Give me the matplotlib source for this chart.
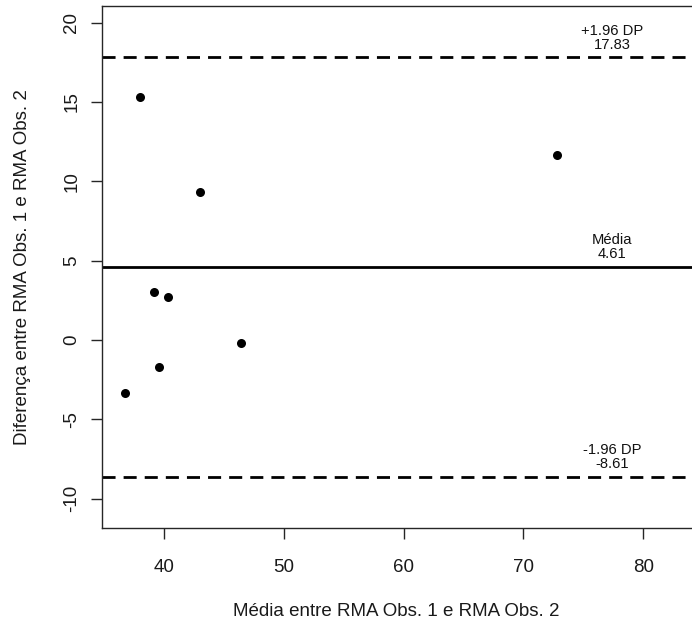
import matplotlib
matplotlib.use("Agg")
import matplotlib.pyplot as plt

plt.rcParams['font.family'] = ['Liberation Sans', 'DejaVu Sans']
plt.rcParams['axes.unicode_minus'] = False

# Bland-Altman data: mean of the two observers vs. their difference
media_obs = [36.74, 37.98, 39.12, 39.55, 40.32, 43.03, 46.41, 72.78]
diferenca_obs = [-3.36, 15.31, 3.00, -1.68, 2.69, 9.34, -0.17, 11.66]

# Summary lines (mean difference and limits of agreement)
media_dif = 4.61
limite_sup = 17.83
limite_inf = -8.61

x_ticks = [40, 50, 60, 70, 80]
y_ticks = [-10, -5, 0, 5, 10, 15, 20]

W, H = 692, 632
fig = plt.figure(figsize=(W / 100, H / 100), dpi=100)
left_px, right_px, top_px, bottom_px = 102, 693, 6, 528.3
ax = fig.add_axes([left_px / W, (H - bottom_px) / H,
                   (right_px - left_px) / W, (bottom_px - top_px) / H])

ax.plot(media_obs, diferenca_obs, 'o', color='black', markersize=6.5,
        markeredgewidth=0)

dash = (0, (4.7, 2.9))
ax.axhline(limite_sup, color='black', lw=2, linestyle=dash)
ax.axhline(media_dif, color='black', lw=2)
ax.axhline(limite_inf, color='black', lw=2, linestyle=dash)

label_x = 77.4
for y, nome in [(limite_sup, '+1.96 DP'), (media_dif, 'Média'),
                (limite_inf, '-1.96 DP')]:
    ax.annotate(f'{nome}\n{y:.2f}', xy=(label_x, y), xytext=(0, 4),
                textcoords='offset points', ha='center', va='bottom',
                fontsize=10.6, linespacing=1.0, color='#111111')

ax.set_xlim(34.82, 84.16)
ax.set_ylim(-11.87, 21.05)
ax.set_xticks(x_ticks)
ax.set_yticks(y_ticks)

edge = '#262626'
for side in ['left', 'bottom', 'top']:
    ax.spines[side].set_color(edge)
    ax.spines[side].set_linewidth(1.0)
ax.spines['right'].set_visible(False)

fs = 13.5
ax.tick_params(axis='both', direction='out', length=7.9, width=1.0,
               color=edge, labelsize=fs, labelcolor='#1a1a1a')
ax.tick_params(axis='x', pad=14.3)
ax.tick_params(axis='y', pad=7.8)
for lab in ax.get_yticklabels():
    lab.set_rotation(90)
    lab.set_va('center')
    lab.set_ha('right')

ax.set_xlabel('Média entre RMA Obs. 1 e RMA Obs. 2', fontsize=fs,
              color='#1a1a1a', va='center')
ax.xaxis.set_label_coords(0.4975, (bottom_px - 611) / (bottom_px - top_px))
ax.set_ylabel('Diferença entre RMA Obs. 1 e RMA Obs. 2', fontsize=fs,
              color='#1a1a1a', va='center')
ax.yaxis.set_label_coords((23 - left_px) / (right_px - left_px), 0.5)

fig.savefig('out.png', dpi=100)
